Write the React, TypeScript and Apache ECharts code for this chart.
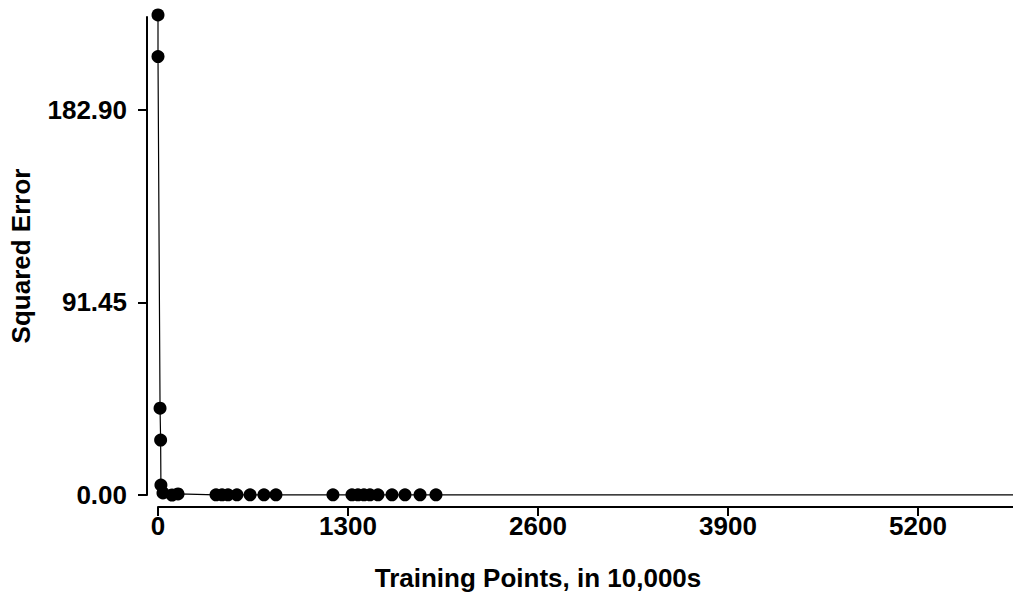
import React, { useEffect, useRef } from "react";
import * as echarts from "echarts";

const xTicks = [0, 1300, 2600, 3900, 5200];
const yTicks = [0, 91.45, 182.9];
const markedX = [0, 0, 14, 18, 20, 34, 96, 137, 397, 438, 479, 540, 630, 725, 807, 1197, 1327, 1368, 1409, 1450, 1505, 1601, 1690, 1793, 1902];
const markedY = [228, 208.2, 41.2, 26.1, 4.7, 1.0, 0.0, 0.5, 0.1, 0.1, 0.1, 0.1, 0.1, 0.1, 0.1, 0.1, 0.1, 0.1, 0.1, 0.1, 0.1, 0.1, 0.1, 0.1, 0.1];
const tailX = [2100, 2300, 2500, 2700, 2900, 3100, 3300, 3500, 3700, 3900, 4100, 4300, 4500, 4700, 4900, 5100, 5300, 5500, 5700, 5900, 6100];
const tailY = [0.1, 0.1, 0.1, 0.1, 0.1, 0.1, 0.1, 0.1, 0.1, 0.1, 0.1, 0.1, 0.1, 0.1, 0.1, 0.1, 0.1, 0.1, 0.1, 0.1, 0.1];
const xTitle = "Training Points, in 10,000s";
const yTitle = "Squared Error";

const FONT = "Liberation Sans";
const FS = 26;

export default function App() {
  const ref = useRef<HTMLDivElement>(null);
  useEffect(() => {
    if (!ref.current) return;
    const chart = echarts.init(ref.current, null, { renderer: "svg" });
    const data: any[] = markedX.map((x, i) => ({ value: [x, markedY[i]] }));
    tailX.forEach((x, i) => data.push({ value: [x, tailY[i]], symbol: "none" }));
    chart.setOption({
      animation: false,
      backgroundColor: "#ffffff",
      grid: { left: 158, right: 0, top: 17, bottom: 105, containLabel: false },
      graphic: [
        {
          type: "text",
          x: 538,
          y: 578,
          style: {
            text: xTitle,
            fontFamily: FONT,
            fontWeight: "bold",
            fontSize: FS,
            fill: "#000",
            align: "center",
            verticalAlign: "middle",
          },
        },
      ],
      xAxis: {
        type: "value",
        min: 0,
        max: 5850,
        offset: 12,
        splitLine: { show: false },
        axisLine: { show: true, onZero: false, lineStyle: { color: "#000", width: 2 } },
        axisTick: { show: true, length: 9, lineStyle: { color: "#000", width: 2 }, customValues: xTicks },
        axisLabel: {
          show: true,
          customValues: xTicks,
          margin: 6,
          fontFamily: FONT,
          fontWeight: "bold",
          fontSize: FS,
          color: "#000",
          formatter: (v: number) => String(v),
        },
      },
      yAxis: {
        type: "value",
        min: 0,
        max: 227,
        offset: 11,
        name: yTitle,
        nameLocation: "middle",
        nameGap: 113,
        nameTextStyle: { fontFamily: FONT, fontWeight: "bold", fontSize: FS, color: "#000" },
        splitLine: { show: false },
        axisLine: { show: true, onZero: false, lineStyle: { color: "#000", width: 2 } },
        axisTick: { show: true, length: 9, lineStyle: { color: "#000", width: 2 }, customValues: yTicks },
        axisLabel: {
          show: true,
          customValues: yTicks,
          margin: 20,
          fontFamily: FONT,
          fontWeight: "bold",
          fontSize: FS,
          color: "#000",
          formatter: (v: number) => v.toFixed(2),
        },
      },
      series: [
        {
          type: "line",
          data,
          clip: false,
          symbol: "circle",
          symbolSize: 13,
          showSymbol: true,
          lineStyle: { color: "#000", width: 1.2 },
          itemStyle: { color: "#000" },
        },
      ],
    });
    return () => chart.dispose();
  }, []);
  return <div ref={ref} style={{ position: "absolute", left: 0, top: 0, width: 1013, height: 600, overflow: "hidden" }} />;
}
